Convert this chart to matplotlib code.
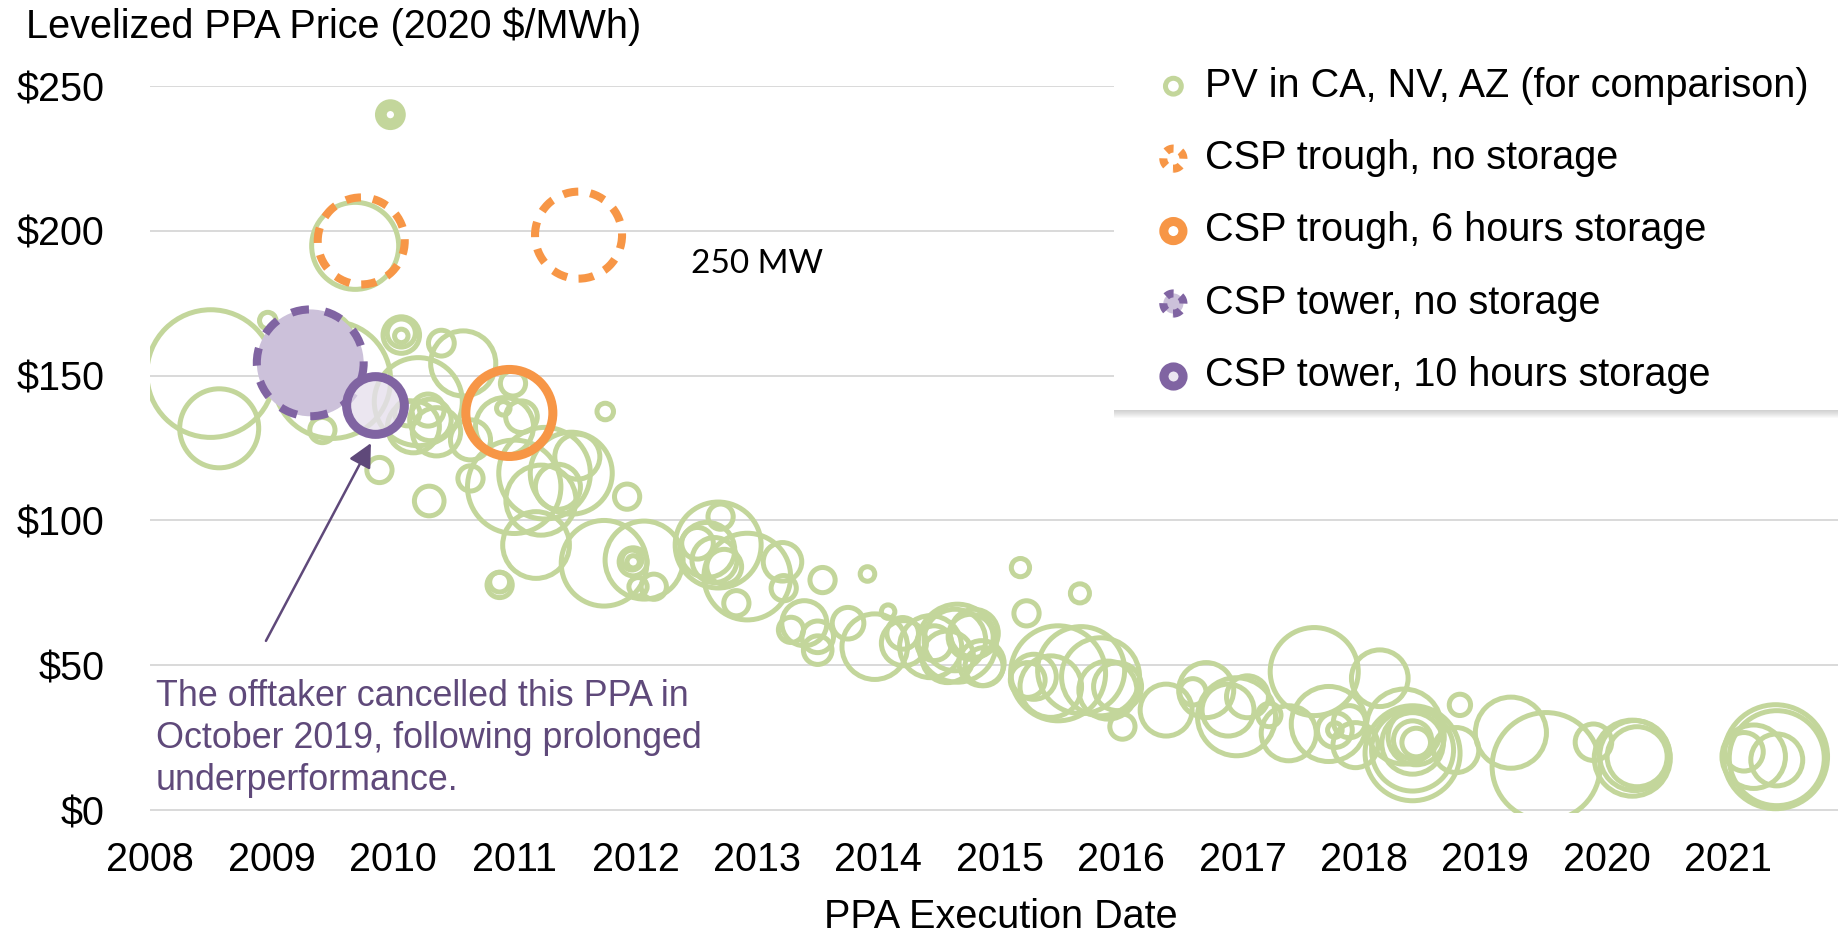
import numpy as np
import matplotlib.pyplot as plt
from matplotlib.legend_handler import HandlerPathCollection
from matplotlib.patches import Rectangle

plt.rcParams['font.family'] = ['Liberation Sans', 'DejaVu Sans']

# PV in CA, NV, AZ: PPA execution date, levelized price (2020 $/MWh), capacity (MW)
pv_date = [2008.50, 2008.57, 2008.97, 2009.49, 2009.50, 2009.42, 2009.89, 2010.30,
           2010.07, 2010.07, 2010.07, 2010.40, 2010.58, 2010.21, 2010.31, 2010.29,
           2010.36, 2010.99, 2010.91, 2011.06, 2010.92, 2011.00, 2011.25, 2011.47,
           2011.52, 2011.36, 2010.64, 2011.93, 2011.18, 2011.75, 2011.74, 2012.07,
           2010.88, 2010.88, 2011.98, 2011.98, 2011.97, 2012.15, 2012.02, 2012.68,
           2012.70, 2012.59, 2012.65, 2012.51, 2012.73, 2012.92, 2012.83, 2013.21,
           2013.22, 2013.54, 2013.91, 2013.39, 2013.28, 2013.50, 2013.75, 2013.50,
           2013.97, 2014.08, 2014.20, 2014.63, 2014.76, 2014.57, 2014.85, 2014.46,
           2014.65, 2014.79, 2014.87, 2014.43, 2014.21, 2015.17, 2015.66, 2015.22,
           2015.48, 2015.67, 2015.83, 2015.42, 2015.89, 2015.97, 2015.28, 2015.23,
           2016.01, 2016.37, 2016.70, 2016.59, 2016.95, 2016.88, 2017.04, 2017.22,
           2017.38, 2017.59, 2017.71, 2017.76, 2017.76, 2017.93, 2017.88, 2018.13,
           2018.40, 2018.40, 2018.40, 2018.40, 2018.43, 2018.33, 2018.43, 2018.79,
           2018.76, 2019.21, 2019.50, 2019.89, 2020.21, 2020.25, 2020.23, 2021.39,
           2021.40, 2021.21, 2021.40, 2021.13, 2009.69, 2009.98, 2009.98, 2009.98,
           2010.17, 2010.12, 2010.64, 2011.22]
pv_price = [150.7, 131.8, 169.0, 164.0, 148.5, 131.2, 117.4, 106.7,
            164.0, 164.7, 163.7, 161.2, 154.2, 141.0, 134.7, 138.1,
            130.6, 147.3, 138.7, 135.8, 132.4, 111.6, 116.3, 116.3,
            122.0, 111.6, 114.5, 108.2, 91.5, 137.6, 85.2, 86.3,
            77.7, 78.7, 85.7, 85.7, 86.3, 77.1, 77.1, 91.5,
            101.3, 89.8, 86.3, 92.1, 84.0, 80.6, 71.4, 85.7,
            76.6, 79.4, 81.5, 64.5, 62.2, 59.8, 64.5, 55.2,
            56.4, 68.5, 61.0, 58.7, 59.8, 52.9, 50.7, 57.6,
            57.6, 61.0, 49.5, 56.4, 57.6, 83.7, 74.8, 67.9,
            47.2, 48.3, 46.0, 42.6, 41.4, 42.6, 46.0, 44.9,
            28.8, 34.5, 41.4, 40.8, 32.2, 34.5, 39.1, 32.8,
            26.5, 47.8, 29.7, 27.6, 27.6, 22.4, 30.5, 45.5,
            19.6, 20.7, 23.0, 24.2, 23.3, 28.8, 25.3, 36.3,
            20.7, 26.7, 15.0, 23.4, 17.9, 18.4, 18.8, 18.4,
            17.9, 18.4, 17.3, 20.1, 194.8, 240.1, 240.1, 240.1,
            132.3, 137.0, 127.8, 107.0]
pv_mw = [538, 206, 9, 53, 452, 21, 21, 29,
         44, 26, 6, 22, 140, 256, 57, 34,
         77, 21, 6, 33, 111, 288, 277, 222,
         67, 67, 21, 21, 147, 9, 242, 201,
         21, 13, 26, 5, 13, 21, 11, 244,
         21, 100, 67, 33, 40, 248, 21, 49,
         21, 21, 7, 67, 21, 33, 33, 27,
         142, 6, 33, 125, 67, 88, 67, 40,
         201, 76, 48, 127, 67, 11, 12, 21,
         298, 250, 201, 125, 111, 76, 67, 40,
         21, 89, 100, 23, 201, 89, 58, 18,
         100, 256, 186, 40, 7, 67, 34, 106,
         298, 222, 125, 48, 27, 186, 104, 15,
         67, 167, 385, 44, 191, 119, 162, 357,
         298, 133, 89, 49, 250, 22, 12, 5,
         89, 21, 53, 162]

# CSP projects
trough_ns_date = [2009.74, 2011.53]
trough_ns_price = [196.5, 198.5]
trough_ns_mw = [250, 250]

trough_6h_date = [2010.96]
trough_6h_price = [137.1]
trough_6h_mw = [250]

tower_ns_date = [2009.32]
tower_ns_price = [154.4]
tower_ns_mw = [377]

tower_10h_date = [2009.85]
tower_10h_price = [139.8]
tower_10h_mw = [110]

years = list(range(2008, 2022))
price_ticks = [0, 50, 100, 150, 200, 250]

green = '#C3D69B'
orange = '#F79646'
purple = '#8064A2'
note_purple = '#5F497A'

FS = 28.5
# bubble area in points^2 per MW
S_PER_MW = 15.7


def sz(mw):
    return np.asarray(mw) * S_PER_MW


W, H = 1838, 936
fig = plt.figure(figsize=(W / 100, H / 100), dpi=100)
ax = fig.add_axes([150 / W, 1 - 812.9 / H, 1688 / W, (812.9 - 86) / H])

pv = ax.scatter(pv_date, pv_price, s=sz(pv_mw), facecolors='none', edgecolors=green,
                linewidths=3.6, zorder=2, label='PV in CA, NV, AZ (for comparison)')
tns = ax.scatter(trough_ns_date, trough_ns_price, s=sz(trough_ns_mw), facecolors='none',
                 edgecolors=orange, linewidths=5.8, linestyles=[(0, (1.9, 1.5))], zorder=3,
                 label='CSP trough, no storage')
t6 = ax.scatter(trough_6h_date, trough_6h_price, s=sz(trough_6h_mw), facecolors='none',
                edgecolors=orange, linewidths=6.5, zorder=3,
                label='CSP trough, 6 hours storage')
wns = ax.scatter(tower_ns_date, tower_ns_price, s=sz(tower_ns_mw), facecolors='#CCC1DA',
                 edgecolors=purple, linewidths=5.8, linestyles=[(0, (2.2, 2.0))], zorder=3,
                 label='CSP tower, no storage')
w10 = ax.scatter(tower_10h_date, tower_10h_price, s=sz(tower_10h_mw),
                 facecolors=(0.90, 0.88, 0.93, 0.8), edgecolors=purple, linewidths=6.5,
                 zorder=4, label='CSP tower, 10 hours storage')

ax.set_xlim(2008, 2008 + 1688 / 121.4)
ax.set_ylim(-1, 250)
ax.set_xticks(years)
ax.set_xticklabels([str(y) for y in years])
ax.set_yticks(price_ticks)
ax.set_yticklabels(['$%d' % p for p in price_ticks])
ax.tick_params(axis='both', length=0, labelsize=FS)
ax.tick_params(axis='x', pad=20)
ax.tick_params(axis='y', pad=33)
ax.grid(axis='y', color='#D9D9D9', lw=1.4)
ax.set_axisbelow(True)
for sp in ax.spines.values():
    sp.set_visible(False)

fig.text(26 / W, 1 - 27 / H, 'Levelized PPA Price (2020 $/MWh)', fontsize=FS,
         va='center', ha='left')
fig.text(1001 / W, 1 - 917 / H, 'PPA Execution Date', fontsize=FS,
         va='center', ha='center')

ax.text(2013.0, 188.5, '250 MW', fontsize=24, family=['Lato', 'DejaVu Sans'],
        ha='center', va='center')

ax.annotate('', xy=(2009.82, 126.7), xytext=(2008.955, 58.4),
            arrowprops=dict(arrowstyle='-|>', color=note_purple, lw=1.8,
                            mutation_scale=36, shrinkA=0, shrinkB=0), zorder=5)
ax.text(2008.05, 24.6, 'The offtaker cancelled this PPA in\nOctober 2019, following prolonged\n'
        'underperformance.', fontsize=25.8, color=note_purple, ha='left', va='center',
        linespacing=1.26)

# white legend panel with a soft shadow along its lower edge
bx0, bx1, by0, by1 = 1114, 1860, 53, 410
for i in range(8, 0, -1):
    ax.add_patch(Rectangle((bx0 / W, 1 - (by1 + i) / H), (bx1 - bx0) / W,
                           (by1 - by0) / H, transform=fig.transFigure, clip_on=False,
                           facecolor='0.35', edgecolor='none', alpha=0.035, zorder=8))
ax.add_patch(Rectangle((bx0 / W, 1 - by1 / H), (bx1 - bx0) / W, (by1 - by0) / H,
                       transform=fig.transFigure, clip_on=False, facecolor='white',
                       edgecolor='none', zorder=9))


def short_dashes(legend_handle, orig_handle):
    # small legend rings need a tighter dash so the break pattern still shows
    legend_handle.update_from(orig_handle)
    legend_handle.set_linestyle((0, (1.0, 0.95)))
    legend_handle.set_linewidth(orig_handle.get_linewidth())


handles = [pv, tns, t6, wns, w10]
hsizes = [130, 210, 190, 210, 190]
hmap = {}
for h, s in zip(handles, hsizes):
    if h in (tns, wns):
        hmap[h] = HandlerPathCollection(sizes=[s], update_func=short_dashes)
    else:
        hmap[h] = HandlerPathCollection(sizes=[s])
leg = ax.legend(handles=handles, handler_map=hmap, loc='upper left',
                bbox_to_anchor=(bx0 / W, 1 - 27 / H), bbox_transform=fig.transFigure,
                fontsize=FS, frameon=False, handlelength=1.0, handletextpad=0.3,
                labelspacing=0.87, borderpad=1.0, borderaxespad=0)
leg.set_zorder(10)

fig.savefig('out.png', dpi=100)
